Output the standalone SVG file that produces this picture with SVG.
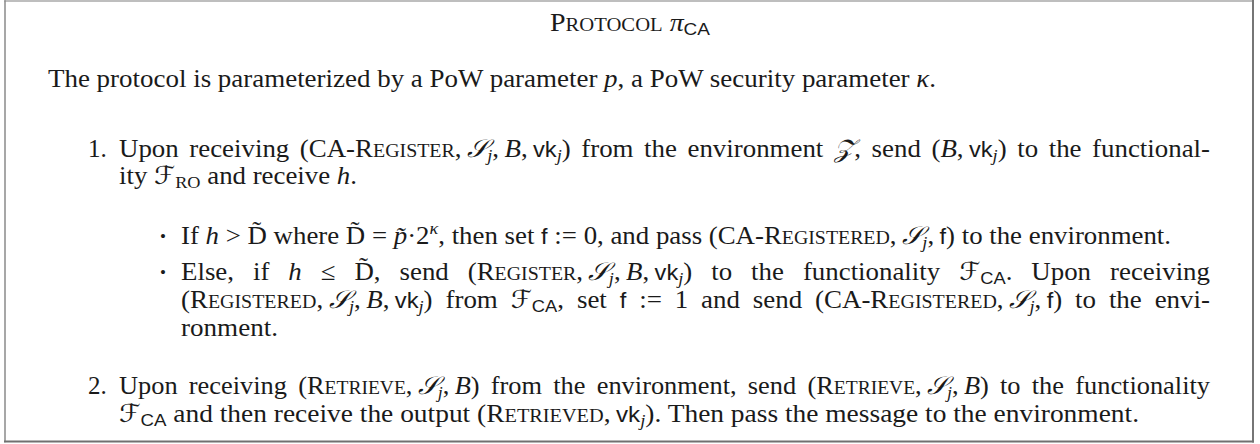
<svg xmlns="http://www.w3.org/2000/svg" width="1260" height="444" viewBox="0 0 1260 444">
<style>
.t { font-family: "Liberation Serif", "DejaVu Serif", serif; font-size: 25px; fill: #1a1a1a; }
.i { font-style: italic; }
.sc { font-size: 18.5px; }
.sf { font-family: "Liberation Sans", "DejaVu Sans", sans-serif; font-size: 22px; }
.cal { font-family: "DejaVu Serif", "DejaVu Sans", serif; font-style: italic; }
.sub { font-size: 17px; }
.subsf { font-family: "Liberation Sans", "DejaVu Sans", sans-serif; font-size: 17px; }
.bul { font-size: 17px; }
.frame { fill: none; stroke-linecap: square; }
</style>
<rect x="5" y="1" width="1248" height="440.5" fill="#ffffff"/>
<g id="frame" class="frame">
<line x1="5" y1="1" x2="1253" y2="1" stroke="#a8a8a8" stroke-width="1.5"/>
<line x1="5" y1="1" x2="5" y2="441.5" stroke="#8a8a8a" stroke-width="1.5"/>
<line x1="1253" y1="1" x2="1253" y2="441.5" stroke="#767676" stroke-width="2"/>
<line x1="5" y1="441.5" x2="1253" y2="441.5" stroke="#707070" stroke-width="2"/>
</g>
<g id="title">
<text class="t" x="550" y="31" textLength="160" lengthAdjust="spacingAndGlyphs">P<tspan class="sc">ROTOCOL</tspan> <tspan class="i">&#x3C0;</tspan><tspan class="subsf" dy="4">CA</tspan></text>
</g>
<g id="intro">
<text class="t" x="48" y="87" textLength="888" lengthAdjust="spacingAndGlyphs">The protocol is parameterized by a PoW parameter <tspan class="i">p</tspan>, a PoW security parameter <tspan class="i">&#x3BA;</tspan>.</text>
</g>
<g id="item1">
<text class="t" x="88" y="157">1.</text>
<text class="t" x="119" y="157" textLength="1091" lengthAdjust="spacingAndGlyphs" word-spacing="3.6">Upon receiving (CA-R<tspan class="sc">EGISTER</tspan>,&#x2009;<tspan class="cal">&#x1D4AE;</tspan><tspan class="sub i" dy="4">j</tspan><tspan dy="-4">,&#x2009;</tspan><tspan class="i">B</tspan>,&#x2009;<tspan class="sf">vk</tspan><tspan class="sub i" dy="4">j</tspan><tspan dy="-4">) from the environment </tspan><tspan class="cal">&#x1D4B5;</tspan>, send (<tspan class="i">B</tspan>,&#x2009;<tspan class="sf">vk</tspan><tspan class="sub i" dy="4">j</tspan><tspan dy="-4">) to the functional-</tspan></text>
<text class="t" x="119" y="184" textLength="238" lengthAdjust="spacingAndGlyphs">ity <tspan class="cal">&#x2131;</tspan><tspan class="sub" dy="4">RO</tspan><tspan dy="-4"> and receive </tspan><tspan class="i">h</tspan>.</text>
</g>
<g id="bullet1">
<text class="t bul" x="160" y="242">&#x2022;</text>
<text class="t" x="181" y="244" textLength="990" lengthAdjust="spacingAndGlyphs">If <tspan class="i">h</tspan> &gt; D&#x303; where D&#x303; = <tspan class="i">p&#x303;</tspan>&#xB7;2<tspan class="sub i" dy="-10">&#x3BA;</tspan><tspan dy="10">, then set </tspan><tspan class="sf">f</tspan> := 0, and pass (CA-R<tspan class="sc">EGISTERED</tspan>,&#x2009;<tspan class="cal">&#x1D4AE;</tspan><tspan class="sub i" dy="4">j</tspan><tspan dy="-4">,&#x2009;</tspan><tspan class="sf">f</tspan>) to the environment.</text>
</g>
<g id="bullet2">
<text class="t bul" x="160" y="278">&#x2022;</text>
<text class="t" x="181" y="280" textLength="1029" lengthAdjust="spacingAndGlyphs" word-spacing="11.4">Else, if <tspan class="i">h</tspan> &#x2264; D&#x303;, send (R<tspan class="sc">EGISTER</tspan>,&#x2009;<tspan class="cal">&#x1D4AE;</tspan><tspan class="sub i" dy="4">j</tspan><tspan dy="-4">,&#x2009;</tspan><tspan class="i">B</tspan>,&#x2009;<tspan class="sf">vk</tspan><tspan class="sub i" dy="4">j</tspan><tspan dy="-4">) to the functionality </tspan><tspan class="cal">&#x2131;</tspan><tspan class="subsf" dy="4">CA</tspan><tspan dy="-4">. Upon receiving</tspan></text>
<text class="t" x="181" y="308" textLength="1029" lengthAdjust="spacingAndGlyphs" word-spacing="5.7">(R<tspan class="sc">EGISTERED</tspan>,&#x2009;<tspan class="cal">&#x1D4AE;</tspan><tspan class="sub i" dy="4">j</tspan><tspan dy="-4">,&#x2009;</tspan><tspan class="i">B</tspan>,&#x2009;<tspan class="sf">vk</tspan><tspan class="sub i" dy="4">j</tspan><tspan dy="-4">) from </tspan><tspan class="cal">&#x2131;</tspan><tspan class="subsf" dy="4">CA</tspan><tspan dy="-4">, set </tspan><tspan class="sf">f</tspan> := 1 and send (CA-R<tspan class="sc">EGISTERED</tspan>,&#x2009;<tspan class="cal">&#x1D4AE;</tspan><tspan class="sub i" dy="4">j</tspan><tspan dy="-4">,&#x2009;</tspan><tspan class="sf">f</tspan>) to the envi-</text>
<text class="t" x="181" y="336" textLength="97" lengthAdjust="spacingAndGlyphs">ronment.</text>
</g>
<g id="item2">
<text class="t" x="88" y="394">2.</text>
<text class="t" x="119" y="394" textLength="1091" lengthAdjust="spacingAndGlyphs" word-spacing="4.4">Upon receiving (R<tspan class="sc">ETRIEVE</tspan>,&#x2009;<tspan class="cal">&#x1D4AE;</tspan><tspan class="sub i" dy="4">j</tspan><tspan dy="-4">,&#x2009;</tspan><tspan class="i">B</tspan>) from the environment, send (R<tspan class="sc">ETRIEVE</tspan>,&#x2009;<tspan class="cal">&#x1D4AE;</tspan><tspan class="sub i" dy="4">j</tspan><tspan dy="-4">,&#x2009;</tspan><tspan class="i">B</tspan>) to the functionality</text>
<text class="t" x="119" y="422" textLength="1020" lengthAdjust="spacingAndGlyphs"><tspan class="cal">&#x2131;</tspan><tspan class="subsf" dy="4">CA</tspan><tspan dy="-4"> and then receive the output (R</tspan><tspan class="sc">ETRIEVED</tspan>,&#x2009;<tspan class="sf">vk</tspan><tspan class="sub i" dy="4">j</tspan><tspan dy="-4">). Then pass the message to the environment.</tspan></text>
</g>
</svg>
